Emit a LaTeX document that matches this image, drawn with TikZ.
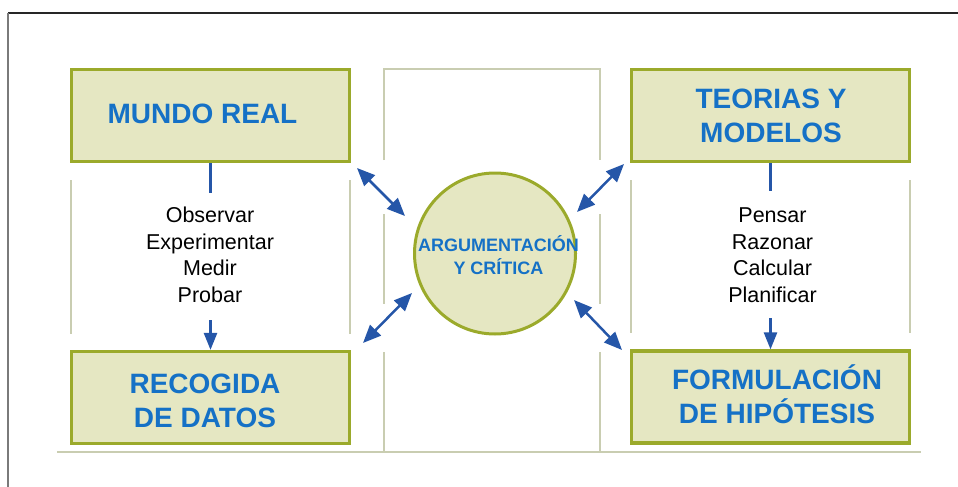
\documentclass[tikz,border=0pt]{standalone}
\usepackage{fontspec}
\setmainfont{Liberation Sans}
\usetikzlibrary{arrows.meta}
\definecolor{boxfill}{HTML}{E5E7C2}
\definecolor{boxline}{HTML}{9BAA2B}
\definecolor{titleblue}{HTML}{1571C6}
\definecolor{arrowblue}{HTML}{2556A8}
\definecolor{guide}{HTML}{C9CDB1}
\definecolor{framegray}{HTML}{7A7A7A}
\begin{document}
\begin{tikzpicture}[x=1pt,y=-1pt,
  bigbox/.style={draw=boxline, fill=boxfill, line width=3.2pt, minimum width=278pt, minimum height=92pt, inner sep=0pt},
  title/.style={font=\fontsize{28}{34}\selectfont\bfseries, text=titleblue, align=center, inner sep=0pt},
  verbs/.style={font=\fontsize{21.5}{26.5}\selectfont, text=black, align=center, inner sep=0pt},
  guideline/.style={draw=guide, line width=1.4pt},
  link/.style={draw=arrowblue, line width=2.5pt},
  dbl/.style={draw=arrowblue, line width=2.5pt, {Triangle[length=18pt,width=15pt]}-{Triangle[length=18pt,width=15pt]}},
  sgl/.style={draw=arrowblue, line width=2.5pt, -{Triangle[length=17pt,width=13pt]}}
]
\useasboundingbox (0,0) rectangle (958,487);
% outer frame
\draw[draw=black!85, line width=1.5pt] (8,13) -- (958,13);
\draw[draw=framegray, line width=1.8pt] (8,13) -- (8,487);

% guide lines
\draw[guideline] (71,180) -- (71,334);
\draw[guideline] (350,180) -- (350,334);
\draw[guideline] (631,180) -- (631,333);
\draw[guideline] (910,180) -- (910,333);
\draw[guideline] (384,160) -- (384,69) -- (600,69) -- (600,160);
\draw[guideline] (384,214) -- (384,304);
\draw[guideline] (600,214) -- (600,304);
\draw[guideline] (384,352) -- (384,452);
\draw[guideline] (600,352) -- (600,452);
\draw[guideline] (57,452) -- (921,452);

% boxes
\node[bigbox] (mr) at (210.5,115.5) {};
\node[bigbox] (tm) at (770.5,115.5) {};
\node[bigbox] (rd) at (210.5,397.5) {};
\node[bigbox] (fh) at (770.5,397) {};
\node[title] (mrt) at (202.5,113.5) {MUNDO REAL};
\node[title] (tmt) at (771,116) {TEORIAS Y\\MODELOS};
\node[title] (rdt) at (205,401) {RECOGIDA\\DE DATOS};
\node[title] (fht) at (777,394) {FORMULACIÓN\\DE HIPÓTESIS};

% circle
\node[circle, draw=boxline, fill=boxfill, line width=3pt, minimum size=161pt, inner sep=0pt] (arg) at (495,253.5) {};
\node[font=\fontsize{18}{23.5}\selectfont\bfseries, text=titleblue, align=center, inner sep=0pt] (argt) at (498.5,255) {ARGUMENTACIÓN\\Y CRÍTICA};

% verbs
\node[verbs] (lv) at (210,255) {Observar\\Experimentar\\Medir\\Probar};
\node[verbs] (rv) at (772.5,255) {Pensar\\Razonar\\Calcular\\Planificar};

% vertical connectors
\coordinate (lstop) at (210.5,193);
\coordinate (lstart) at (210.5,320);
\coordinate (rstop) at (770.5,191);
\coordinate (rstart) at (770.5,318);
\draw[link] (mr.south) -- (lstop);
\draw[sgl] (lstart) -- (rd.north);
\draw[link] (tm.south) -- (rstop);
\draw[sgl] (rstart) -- (fh.north);

% double arrows
\coordinate (a1s) at (357,168);
\coordinate (a1e) at (405,216);
\coordinate (a2s) at (577,212);
\coordinate (a2e) at (624,164);
\coordinate (a3s) at (363,343);
\coordinate (a3e) at (412,293);
\coordinate (a4s) at (574,300);
\coordinate (a4e) at (622,350);
\draw[dbl] (a1s) -- (a1e);
\draw[dbl] (a2s) -- (a2e);
\draw[dbl] (a3s) -- (a3e);
\draw[dbl] (a4s) -- (a4e);
\end{tikzpicture}
\end{document}
